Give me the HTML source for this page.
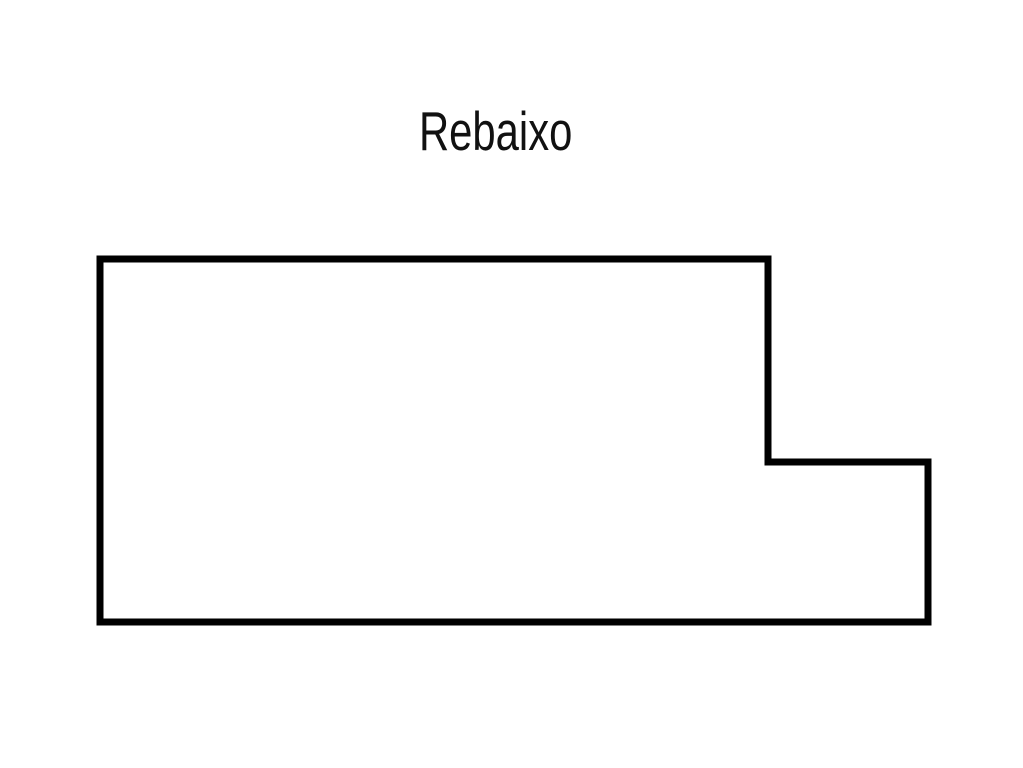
<!DOCTYPE html>
<html><head><style>
html,body{margin:0;padding:0;background:#fff;width:1023px;height:768px;overflow:hidden}
.t{position:absolute;left:419px;top:99px;font-family:"Liberation Sans",sans-serif;font-size:55px;line-height:64px;color:#111;transform-origin:0 0;transform:scaleX(0.76);white-space:nowrap}
svg{position:absolute;left:0;top:0}
</style></head><body>
<div class="t">Rebaixo</div>
<svg width="1023" height="768"><polygon points="100,259 768,259 768,462 928,462 928,622 100,622" fill="none" stroke="#000" stroke-width="7" stroke-linejoin="miter"/></svg>
</body></html>
